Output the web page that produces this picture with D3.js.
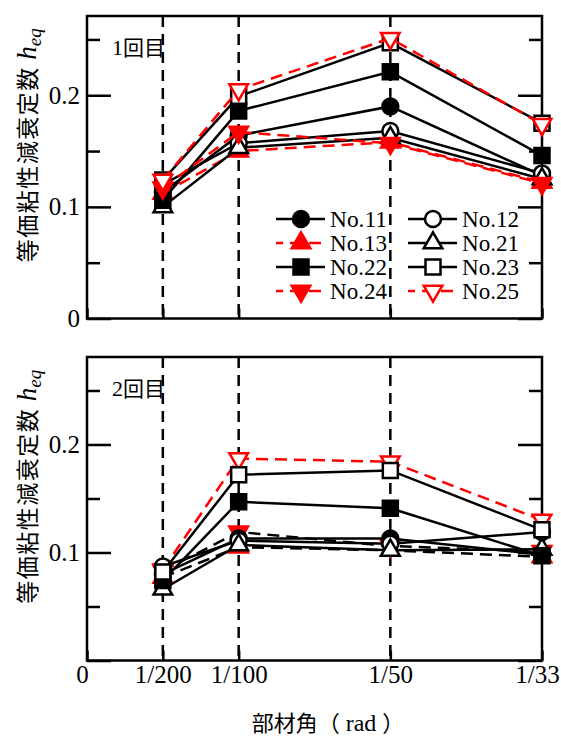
<!DOCTYPE html>
<html>
  <head>
    <meta charset="utf-8">
    <script src="https://d3js.org/d3.v7.min.js"></script>
    <style>
      body { margin: 0; background: #fff; }
    </style>
  </head>
  <body>
    <svg width="561" height="737"></svg>
  <script>
    // member angle (rad) and its tick labels
    var angles = [0.005, 0.01, 0.02, 0.03];
    var angleLabels = ["1/200", "1/100", "1/50", "1/33"];

    var specimens = ["No.11", "No.12", "No.13", "No.21", "No.22", "No.23", "No.24", "No.25"];

    // equivalent viscous damping h_eq, one row per specimen (same order as above)
    var cycle1 = [
      [0.113, 0.164, 0.190, 0.128],
      [0.120, 0.157, 0.168, 0.130],
      [0.112, 0.150, 0.158, 0.122],
      [0.100, 0.153, 0.162, 0.125],
      [0.106, 0.186, 0.221, 0.146],
      [0.124, 0.199, 0.247, 0.175],
      [0.117, 0.167, 0.157, 0.121],
      [0.124, 0.205, 0.251, 0.174]
    ];
    var cycle2 = [
      [0.080, 0.113, 0.113, 0.098],
      [0.087, 0.111, 0.108, 0.119],
      [0.077, 0.105, 0.102, 0.096],
      [0.066, 0.107, 0.102, 0.103],
      [0.074, 0.147, 0.141, 0.097],
      [0.082, 0.172, 0.176, 0.121],
      [0.083, 0.119, 0.106, 0.101],
      [0.084, 0.187, 0.184, 0.130]
    ];

    var majorTicks = [0, 0.1, 0.2];
    var minorTicks = [0.05, 0.15, 0.25];

    var SERIF = "'Liberation Serif', 'Times New Roman', 'DejaVu Serif', serif";
    var JP = "'Noto Sans CJK JP', 'Noto Sans CJK SC', sans-serif";

    // marker / line look for each specimen
    var look = {
      "No.11": {type: "circle", fill: "black", color: "black", dash: false},
      "No.12": {type: "circle", fill: "white", color: "black", dash: false},
      "No.13": {type: "up",     fill: "red",   color: "red",   dash: true},
      "No.21": {type: "up",     fill: "white", color: "black", dash: false},
      "No.22": {type: "square", fill: "black", color: "black", dash: false},
      "No.23": {type: "square", fill: "white", color: "black", dash: false},
      "No.24": {type: "down",   fill: "red",   color: "red",   dash: true},
      "No.25": {type: "down",   fill: "white", color: "red",   dash: true}
    };

    var svg = d3.select("svg");
    var left = 87, right = 542;

    var x = d3.scaleLinear().domain([0, 0.03]).range([left, right]);

    var panels = [
      {label: "1回目", data: cycle1, top: 16, bottom: 318.5, ymax: 0.271, labels: [0, 0.1, 0.2], blackDash: []},
      {label: "2回目", data: cycle2, top: 357, bottom: 660.5, ymax: 0.281, labels: [0.1, 0.2], blackDash: ["No.13", "No.24"]}
    ];

    function marker(g, type, cx, cy, fill, color) {
      var sym = {circle: d3.symbolCircle, square: d3.symbolSquare, up: d3.symbolTriangle, down: d3.symbolTriangle}[type];
      var size = {circle: 200, square: 225, up: 150, down: 150}[type];
      g.append("path")
        .attr("d", d3.symbol().type(sym).size(size)())
        .attr("transform", "translate(" + cx + "," + cy + ")" + (type == "down" ? " rotate(180)" : ""))
        .attr("fill", fill)
        .attr("stroke", color)
        .attr("stroke-width", 2.5);
    }

    panels.forEach(function(p, pi) {
      var y = d3.scaleLinear().domain([0, p.ymax]).range([p.bottom, p.top]);
      var g = svg.append("g");

      // y ticks, inward on both sides
      g.append("g").attr("transform", "translate(" + left + ",0)")
        .call(d3.axisLeft(y).tickValues(majorTicks).tickSize(-24).tickFormat(""));
      g.append("g").attr("transform", "translate(" + left + ",0)")
        .call(d3.axisLeft(y).tickValues(minorTicks).tickSize(-13).tickFormat(""));
      g.append("g").attr("transform", "translate(" + right + ",0)")
        .call(d3.axisRight(y).tickValues(majorTicks).tickSize(-24).tickFormat(""));
      g.append("g").attr("transform", "translate(" + right + ",0)")
        .call(d3.axisRight(y).tickValues(minorTicks).tickSize(-13).tickFormat(""));

      // y tick labels
      g.append("g").attr("transform", "translate(" + left + ",0)")
        .call(d3.axisLeft(y).tickValues(p.labels).tickSize(0).tickPadding(7).tickFormat(function(d) { return String(d); }))
        .attr("font-family", SERIF).attr("font-size", 25);

      // x ticks
      var xa = g.append("g").attr("transform", "translate(0," + p.bottom + ")")
        .call(d3.axisBottom(x).tickValues([0].concat(angles)).tickSize(-10).tickPadding(5)
          .tickFormat(function(d, i) { return pi == 1 ? (i == 0 ? "0" : angleLabels[i - 1]) : ""; }))
        .attr("font-family", SERIF).attr("font-size", 25);
      xa.selectAll("text")
        .attr("dx", function(d, i) { return (i == 0 || i == 4) ? -5 : 0; });

      g.selectAll(".domain").remove();
      g.selectAll(".tick line").attr("stroke", "black").attr("stroke-width", 2.5);

      // dashed guides at the first three angles
      g.selectAll(".guide").data(angles.slice(0, 3)).enter().append("line")
        .attr("x1", function(d) { return x(d); })
        .attr("x2", function(d) { return x(d); })
        .attr("y1", p.top)
        .attr("y2", p.bottom)
        .attr("stroke", "black")
        .attr("stroke-width", 2.5)
        .attr("stroke-dasharray", "11,7");

      // frame
      g.append("rect")
        .attr("x", left).attr("y", p.top)
        .attr("width", right - left).attr("height", p.bottom - p.top)
        .attr("fill", "none").attr("stroke", "black").attr("stroke-width", 2.5);

      // series: in round 2 the red ones sit underneath
      var order = specimens.map(function(s, i) { return i; });
      if (pi == 1) {
        order.sort(function(a, b) {
          return (look[specimens[b]].color == "red") - (look[specimens[a]].color == "red") || a - b;
        });
      }
      var line = d3.line().x(function(d, i) { return x(angles[i]); }).y(function(d) { return y(d); });
      order.forEach(function(si) {
        var name = specimens[si];
        var st = look[name];
        var lineColor = p.blackDash.indexOf(name) >= 0 ? "black" : st.color;
        g.append("path")
          .attr("d", line(p.data[si]))
          .attr("fill", "none")
          .attr("stroke", lineColor)
          .attr("stroke-width", 2.5)
          .attr("stroke-dasharray", st.dash ? "12,7" : null);
        p.data[si].forEach(function(v, i) {
          marker(g, st.type, x(angles[i]), y(v), st.fill, st.color);
        });
      });

      // panel label
      var lab = g.append("text").attr("x", 112).attr("y", p.top + 39)
        .attr("font-size", 22).attr("font-family", SERIF);
      lab.append("tspan").text(p.label.charAt(0));
      lab.append("tspan").attr("font-family", JP).attr("font-size", 21).text(p.label.slice(1));

      // y title
      var yc = (p.top + p.bottom) / 2 - 22;
      var t = g.append("text")
        .attr("transform", "translate(36," + yc + ") rotate(-90)")
        .attr("text-anchor", "middle")
        .attr("font-family", SERIF)
        .attr("font-size", 24);
      t.append("tspan").attr("font-family", JP).attr("font-size", 23).attr("letter-spacing", 1.5).text("等価粘性減衰定数 ");
      t.append("tspan").attr("font-style", "italic").attr("font-size", 27).text("h");
      t.append("tspan").attr("font-style", "italic").attr("font-size", 19).attr("dy", 5).text("eq");
    });

    // legend (round 1 panel)
    var legendRows = [219, 243, 267, 291];
    var legendCols = [276, 408];
    var legend = svg.append("g");
    specimens.forEach(function(name, i) {
      var col = i % 2;
      var row = Math.floor(i / 2);
      var lx = legendCols[col], ly = legendRows[row];
      var st = look[name];
      legend.append("line")
        .attr("x1", lx).attr("x2", lx + 49)
        .attr("y1", ly).attr("y2", ly)
        .attr("stroke", st.color)
        .attr("stroke-width", 2.5)
        .attr("stroke-dasharray", st.dash ? "12,7" : null)
        .attr("stroke-dashoffset", st.dash ? 5 : null);
      marker(legend, st.type, lx + 25, ly, st.fill, st.color);
      legend.append("text")
        .attr("x", lx + 54)
        .attr("y", ly + 8)
        .attr("font-family", SERIF)
        .attr("font-size", 23)
        .attr("textLength", 57)
        .attr("lengthAdjust", "spacingAndGlyphs")
        .text(name);
    });

    // x title
    var xt = svg.append("text")
      .attr("x", 328).attr("y", 731)
      .attr("text-anchor", "middle")
      .attr("font-family", SERIF)
      .attr("font-size", 24);
    xt.append("tspan").attr("font-family", JP).attr("font-size", 22).text("部材角（");
    xt.append("tspan").text(" rad ");
    xt.append("tspan").attr("font-family", JP).attr("font-size", 22).text("）");
  </script>
  </body>
</html>
